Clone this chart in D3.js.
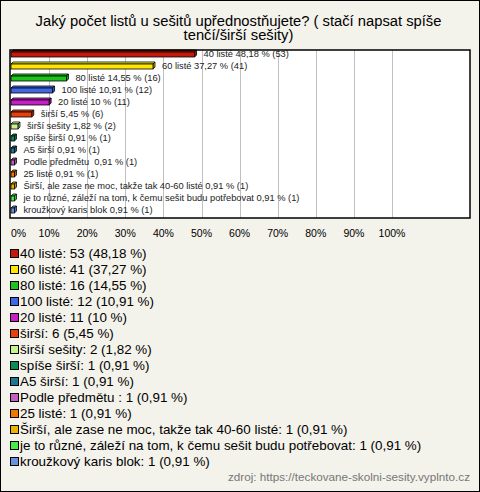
<!DOCTYPE html>
<html><head><meta charset="utf-8">
<script src="https://cdn.jsdelivr.net/npm/d3@7"></script>
<style>html,body{margin:0;padding:0;background:#f3f2eb;} svg{display:block;}</style>
</head><body>
<script>
const categories = ["40 listé","60 listé","80 listé","100 listé","20 listé","širší","širší sešity","spíše širší","A5 širší","Podle předmětu ","25 listé","Širší, ale zase ne moc, takže tak 40-60 listé","je to různé, záleží na tom, k čemu sešit budu potřebovat","kroužkový karis blok"];
const counts = [53,41,16,12,11,6,2,1,1,1,1,1,1,1];
const percents = [48.18,37.27,14.55,10.91,10,5.45,1.82,0.91,0.91,0.91,0.91,0.91,0.91,0.91];
const colors = ["#c4190c","#ffe600","#1ec41e","#3f68e6","#c81ec8","#e8400c","#c8f28c","#0c8a5a","#1e7890","#c060c0","#f07800","#e8b400","#44ee44","#6c90e0"];
const tickValues = [0,10,20,30,40,50,60,70,80,90,100];
const tickLabels = ["0%","10%","20%","30%","40%","50%","60%","70%","80%","90%","100%"];
const titleLines = ["Jaký počet listů u sešitů upřednostňujete? ( stačí napsat spíše","tenčí/širší sešity)"];
const sourceText = "zdroj: https://teckovane-skolni-sesity.vyplnto.cz";

const W = 480, H = 492;
const fmt = v => String(v).replace(".", ",");
const svg = d3.select("body").append("svg").attr("width", W).attr("height", H);
svg.append("rect").attr("x",0.5).attr("y",0.5).attr("width",W-1).attr("height",H-1)
  .attr("fill","#f3f2eb").attr("stroke","#000");

// title
svg.append("g").selectAll("text").data(titleLines).join("text")
  .attr("x", 238.5).attr("y",(d,i)=>25.5+i*14.5)
  .attr("text-anchor","middle").attr("font-family","Liberation Sans, Arial, sans-serif")
  .attr("font-size",14.75).attr("fill","#000").text(d=>d);

const plot = {left:10, top:50, right:470, bottom:218};
svg.append("rect").attr("x",plot.left).attr("y",plot.top)
  .attr("width",plot.right-plot.left).attr("height",plot.bottom-plot.top)
  .attr("fill","#fff");

const x = d3.scaleLinear().domain([0,100]).range([11,392]);
const y = d3.scaleBand().domain(categories).range([plot.top-2, plot.bottom-2]);

// grid
svg.append("g").selectAll("line").data(tickValues.filter(v=>v>0)).join("line")
  .attr("x1",d=>Math.round(x(d))+0.5).attr("x2",d=>Math.round(x(d))+0.5)
  .attr("y1",plot.top).attr("y2",plot.bottom).attr("stroke","#c0c0c0").attr("stroke-width",1);

// tick labels
svg.append("g").selectAll("text").data(tickValues).join("text")
  .attr("x",d=>x(d)).attr("y",237)
  .attr("text-anchor",d=>d===0?"start":"middle")
  .attr("font-family","Liberation Sans, Arial, sans-serif").attr("font-size",10.5)
  .attr("fill","#000").text((d,i)=>tickLabels[i]);

// bars (3D look)
const bh = 5, dep = 2;
const bars = svg.append("g").selectAll("g").data(categories).join("g");
bars.each(function(c,i){
  const g = d3.select(this);
  const x0 = x(0), x1 = x(percents[i]);
  const yc = y(c) + y.bandwidth()/2;
  const yt = yc - bh/2 + 0.5;
  const col = d3.color(colors[i]);
  g.append("path").attr("d",`M${x0},${yt}L${x0+dep},${yt-dep}L${x1+dep},${yt-dep}L${x1},${yt}Z`)
    .attr("fill",col.brighter(0.3)).attr("stroke","#000").attr("stroke-width",0.8);
  g.append("path").attr("d",`M${x1},${yt}L${x1+dep},${yt-dep}L${x1+dep},${yt+bh-dep}L${x1},${yt+bh}Z`)
    .attr("fill",col.darker(0.5)).attr("stroke","#000").attr("stroke-width",0.8);
  g.append("rect").attr("x",x0).attr("y",yt).attr("width",x1-x0).attr("height",bh)
    .attr("fill",col).attr("stroke","#000").attr("stroke-width",0.8);
  g.append("text").attr("x",x1+9).attr("y",yc+3.2)
    .attr("font-family","Liberation Sans, Arial, sans-serif").attr("font-size",9.3)
    .attr("fill","#222").style("white-space","pre")
    .text(`${c} ${fmt(percents[i])} % (${counts[i]})`);
});

// plot frame
svg.append("rect").attr("x",plot.left).attr("y",plot.top)
  .attr("width",plot.right-plot.left).attr("height",plot.bottom-plot.top)
  .attr("fill","none").attr("stroke","#000").attr("stroke-width",1.5);

// legend
const leg = svg.append("g").selectAll("g").data(categories).join("g")
  .attr("transform",(d,i)=>`translate(10,${253+i*16})`);
leg.append("rect").attr("x",0.5).attr("y",-3.5).attr("width",8).attr("height",8)
  .attr("fill",(d,i)=>colors[i]).attr("stroke","#000").attr("stroke-width",1);
leg.append("text").attr("x",10).attr("y",5)
  .attr("font-family","Liberation Sans, Arial, sans-serif").attr("font-size",13.4)
  .attr("fill","#000").style("white-space","pre")
  .text((d,i)=>`${d}: ${counts[i]} (${fmt(percents[i])} %)`);

svg.append("text").attr("x",470).attr("y",481).attr("text-anchor","end")
  .attr("font-family","Liberation Sans, Arial, sans-serif").attr("font-size",11.7)
  .attr("fill","#777").text(sourceText);
</script>
</body></html>
